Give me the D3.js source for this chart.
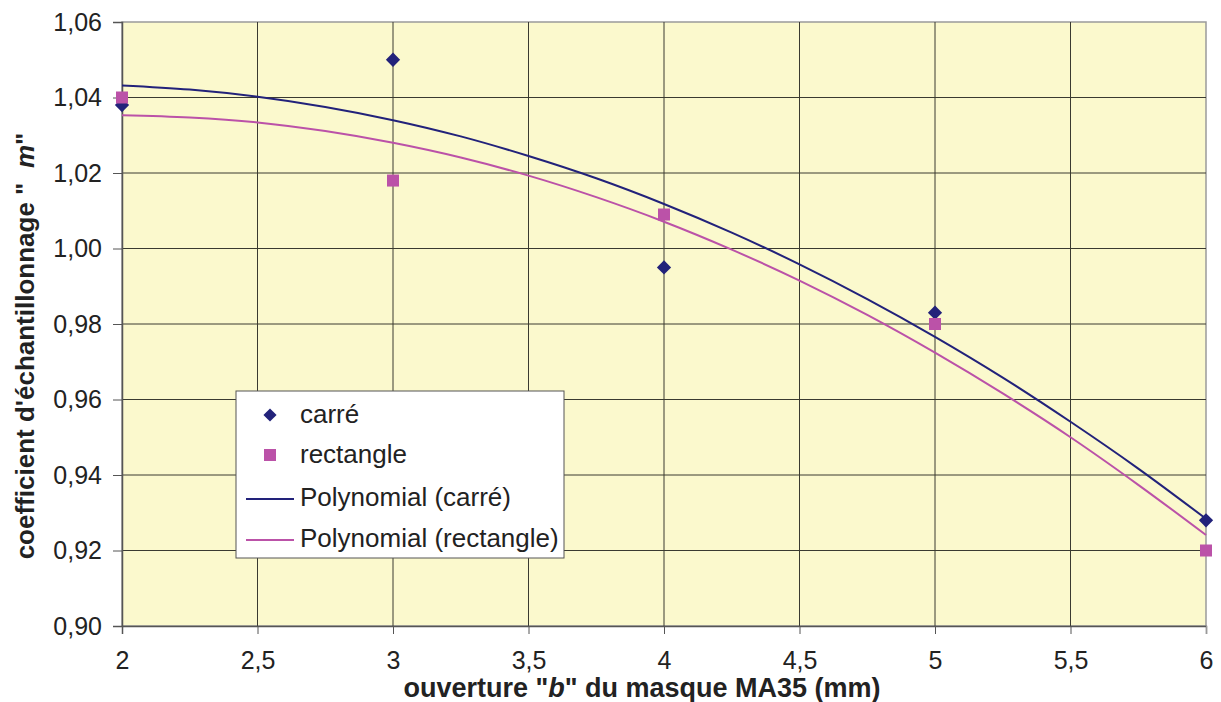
<!DOCTYPE html>
<html><head><meta charset="utf-8">
<script src="https://cdn.jsdelivr.net/npm/d3@7"></script>
<style>
html,body{margin:0;padding:0;background:#fff;}
svg{display:block;font-family:Arial,"Liberation Sans",sans-serif;}
</style></head>
<body><svg id="c" width="1221" height="702"></svg>
<script>
// Data
const xPoints = [2, 3, 4, 5, 6];
const carre = [1.038, 1.050, 0.995, 0.983, 0.928];
const rectangle = [1.040, 1.018, 1.009, 0.980, 0.920];
// Trend curves
const trendX = [2, 2.25, 2.5, 2.75, 3, 3.25, 3.5, 3.75, 4, 4.25, 4.5, 4.75, 5, 5.25, 5.5, 5.75, 6];
const trendCarre = [1.0432, 1.0421, 1.0402, 1.0375, 1.0340, 1.0297, 1.0245, 1.0186, 1.0118, 1.0042, 0.9958, 0.9866, 0.9766, 0.9658, 0.9541, 0.9417, 0.9284];
const trendRect = [1.0353, 1.0347, 1.0334, 1.0311, 1.0280, 1.0241, 1.0193, 1.0136, 1.0071, 0.9997, 0.9915, 0.9824, 0.9724, 0.9616, 0.9500, 0.9374, 0.9241];
const xTicks = [2, 2.5, 3, 3.5, 4, 4.5, 5, 5.5, 6];
const yTicks = [0.90, 0.92, 0.94, 0.96, 0.98, 1.00, 1.02, 1.04, 1.06];
const legendLabels = ["carré", "rectangle", "Polynomial (carré)", "Polynomial (rectangle)"];

const navy = "#22227a", pink = "#bb52a8";
const svg = d3.select("#c");
const L = 122, R = 1206, T = 22, B = 626;
const x = d3.scaleLinear().domain([2, 6]).range([L, R]);
const y = d3.scaleLinear().domain([0.90, 1.06]).range([B, T]);
const fmt = v => String(v).replace(".", ",");
const fmtY = v => v.toFixed(2).replace(".", ",");

svg.append("rect").attr("x", L).attr("y", T).attr("width", R - L).attr("height", B - T)
  .attr("fill", "#fbf9cd").attr("stroke", "#9a9a9a").attr("stroke-width", 1.5);

// grid
svg.append("g").selectAll("line").data(yTicks.slice(1, -1)).join("line")
  .attr("x1", L).attr("x2", R).attr("y1", d => y(d)).attr("y2", d => y(d))
  .attr("stroke", "#3a3a30").attr("stroke-width", 1);
svg.append("g").selectAll("line").data(xTicks.slice(1, -1)).join("line")
  .attr("y1", T).attr("y2", B).attr("x1", d => x(d)).attr("x2", d => x(d))
  .attr("stroke", "#3a3a30").attr("stroke-width", 1);

// axes
const yAxis = svg.append("g").attr("transform", `translate(${L},0)`)
  .call(d3.axisLeft(y).tickValues(yTicks).tickFormat(fmtY).tickSize(9).tickPadding(11));
const xAxis = svg.append("g").attr("transform", `translate(0,${B})`)
  .call(d3.axisBottom(x).tickValues(xTicks).tickFormat(fmt).tickSize(8).tickPadding(17));
[yAxis, xAxis].forEach(a => {
  a.select(".domain").attr("stroke", "#555").attr("stroke-width", 1.5);
  a.selectAll(".tick line").attr("stroke", "#555");
  a.selectAll("text").attr("font-size", 25).attr("fill", "#222").attr("font-family", "Arial, 'Liberation Sans', sans-serif");
});
xAxis.select(".tick:last-of-type line").attr("stroke", "#999");

// trend lines
const line = d3.line().x(d => x(d[0])).y(d => y(d[1])).curve(d3.curveMonotoneX);
svg.append("path").datum(trendX.map((v, i) => [v, trendCarre[i]])).attr("d", line)
  .attr("fill", "none").attr("stroke", navy).attr("stroke-width", 2);
svg.append("path").datum(trendX.map((v, i) => [v, trendRect[i]])).attr("d", line)
  .attr("fill", "none").attr("stroke", pink).attr("stroke-width", 2);

// markers
svg.append("g").selectAll("path").data(xPoints.map((v, i) => [v, carre[i]])).join("path")
  .attr("d", d3.symbol(d3.symbolDiamond2, 130)).attr("fill", navy)
  .attr("transform", d => `translate(${x(d[0])},${y(d[1])})`);
svg.append("g").selectAll("rect").data(xPoints.map((v, i) => [v, rectangle[i]])).join("rect")
  .attr("x", d => x(d[0]) - 6).attr("y", d => y(d[1]) - 6).attr("width", 12).attr("height", 12)
  .attr("fill", pink);

// legend
const lg = svg.append("g");
lg.append("rect").attr("x", 236).attr("y", 391).attr("width", 328).attr("height", 167)
  .attr("fill", "#fff").attr("stroke", "#555").attr("stroke-width", 1);
const rowsY = [414, 454, 497, 538];
lg.append("path").attr("d", d3.symbol(d3.symbolDiamond2, 110)).attr("fill", navy)
  .attr("transform", `translate(270,${rowsY[0] + 1})`);
lg.append("rect").attr("x", 264).attr("y", rowsY[1] - 5).attr("width", 12).attr("height", 12).attr("fill", pink);
lg.append("line").attr("x1", 246).attr("x2", 294).attr("y1", rowsY[2] + 2).attr("y2", rowsY[2] + 2).attr("stroke", navy).attr("stroke-width", 2);
lg.append("line").attr("x1", 246).attr("x2", 294).attr("y1", rowsY[3] + 2).attr("y2", rowsY[3] + 2).attr("stroke", pink).attr("stroke-width", 2);
lg.selectAll("text").data(legendLabels).join("text")
  .attr("x", 300).attr("y", (d, i) => rowsY[i]).attr("dy", "0.35em")
  .attr("font-size", 26).attr("fill", "#222").text(d => d);

// axis titles
const xt = svg.append("text").attr("x", 642).attr("y", 697).attr("text-anchor", "middle")
  .attr("font-size", 27).attr("font-weight", "bold").attr("fill", "#222");
xt.append("tspan").text("ouverture \"");
xt.append("tspan").attr("font-style", "italic").text("b");
xt.append("tspan").text("\" du masque MA35 (mm)");

const yt = svg.append("text").attr("transform", "translate(34,346) rotate(-90)").attr("text-anchor", "middle")
  .attr("font-size", 26).attr("font-weight", "bold").attr("fill", "#222")
  .attr("xml:space", "preserve").style("white-space", "pre");
yt.append("tspan").text("coefficient d'échantillonnage \"  ");
yt.append("tspan").attr("font-style", "italic").text("m");
yt.append("tspan").text("\"");
</script></body></html>
